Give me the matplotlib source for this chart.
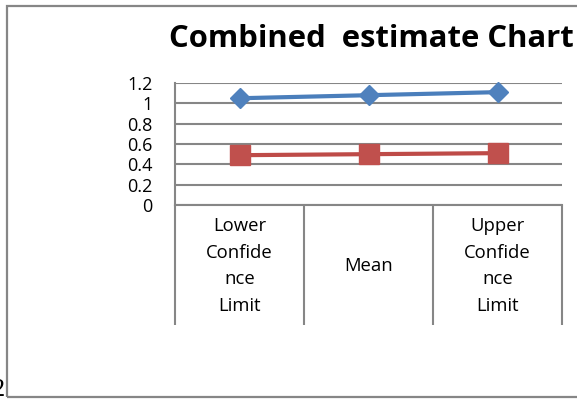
import matplotlib
matplotlib.use("Agg")
import matplotlib.pyplot as plt
from matplotlib.patches import Rectangle

categories = ["Lower\nConfide\nnce\nLimit", "Mean", "Upper\nConfide\nnce\nLimit"]
series_blue = [1.05, 1.08, 1.11]
series_red = [0.49, 0.50, 0.51]
y_ticks = [0, 0.2, 0.4, 0.6, 0.8, 1, 1.2]
y_tick_labels = ["0", "0.2", "0.4", "0.6", "0.8", "1", "1.2"]
title = "Combined  estimate Chart"

W, H = 577, 399
plt.rcParams["font.family"] = ["Open Sans", "DejaVu Sans"]

fig = plt.figure(figsize=(W / 100, H / 100), dpi=100)
fig.patch.set_facecolor("white")

def fx(x):
    return x / W

def fy(y):
    return 1 - y / H

grid_c = "#868686"

# chart frame
fig.add_artist(Rectangle((fx(6.5), fy(397)), fx(600), (397 - 6) / H,
                         transform=fig.transFigure, fill=False,
                         edgecolor=grid_c, lw=1.6, clip_on=False))

ax = fig.add_axes([fx(175), fy(205), fx(562 - 175), (205 - 83) / H])
ax.set_xlim(0, 3)
ax.set_ylim(0, 1.2)

x = [i + 0.5 for i in range(len(categories))]
ax.plot(x, series_blue, color="#4A7EBB", lw=3, marker="D", ms=10.5,
        mfc="#4F81BD", mec="#4F81BD", zorder=3, clip_on=False)
ax.plot(x, series_red, color="#BE4B48", lw=3, marker="s", ms=14,
        mfc="#C0504D", mec="#C0504D", zorder=3, clip_on=False)

ax.set_yticks(y_ticks)
ax.set_yticklabels(y_tick_labels)
ax.yaxis.grid(True, color=grid_c, lw=1.5)
ax.set_axisbelow(True)
ax.tick_params(axis="y", length=0, pad=16, labelsize=13, labelcolor="black")

ax.set_xticks(x)
ax.set_xticklabels(categories, fontsize=13.3, linespacing=1.62)
ax.set_xticks(range(len(categories) + 1), minor=True)
ax.tick_params(axis="x", which="major", length=0, pad=44)
ax.tick_params(axis="x", which="minor", length=86.5, width=1.5,
               color=grid_c, direction="out")
for lbl in ax.get_xticklabels():
    lbl.set_va("center")

for s in ["top", "right"]:
    ax.spines[s].set_visible(False)
for s in ["left", "bottom"]:
    ax.spines[s].set_color(grid_c)
    ax.spines[s].set_linewidth(1.5)

fig.text(fx(169), fy(47), title, fontsize=22.3, fontweight="bold",
         ha="left", va="baseline")
fig.text(fx(5.5), fy(396), "2", fontsize=19, family="Liberation Serif",
         ha="right", va="baseline")

fig.savefig("out.png", dpi=100)
